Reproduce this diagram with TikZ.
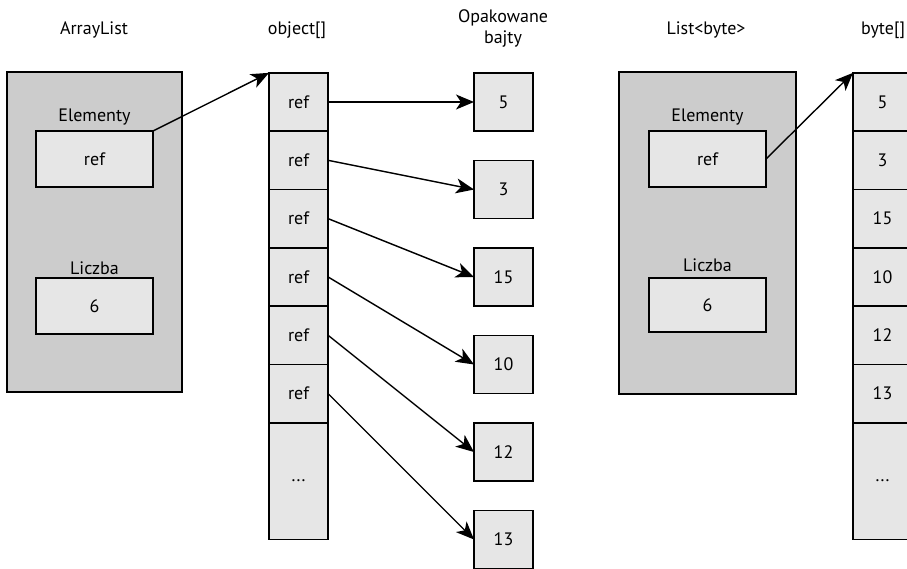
\documentclass[tikz,border=0pt]{standalone}
\usepackage{fontspec}
\setmainfont{PT Sans}
\usepackage{tikz}
\usetikzlibrary{arrows.meta,positioning}

\definecolor{outergray}{RGB}{204,204,204}
\definecolor{innergray}{RGB}{230,230,230}

\begin{document}
\begin{tikzpicture}[x=1pt,y=-1pt,font=\fontsize{18}{21}\selectfont]
			\tikzstyle{Outer}	= [rectangle, draw, line width=1.6pt, fill=outergray, minimum width=175pt, minimum height=320pt, inner sep=0pt, outer sep=0pt]
			\tikzstyle{Field}	= [rectangle, draw, line width=1.6pt, fill=innergray, minimum width=117pt, minimum height=56pt, inner sep=0pt, outer sep=0pt]
			\tikzstyle{Cell}	= [rectangle, draw, line width=1.6pt, fill=innergray, minimum width=59pt, minimum height=58.3pt, inner sep=0pt, outer sep=0pt]
			\tikzstyle{Tail}	= [Cell, minimum height=116.6pt]
			\tikzstyle{Boxed}	= [Cell, minimum height=58pt]
			\tikzstyle{Title}	= [inner sep=0pt]
			\tikzstyle{Ptr}		= [line width=1.4pt, -{Stealth[length=18pt,width=15pt,inset=5pt]}]

			\useasboundingbox (0,0) rectangle (907,568);

			% titles
			\node (tAL) at (94,30) [Title] {ArrayList};
			\node (tObj) at (297,30) [Title] {object[]};
			\node (tBox) at (503,28) [Title, align=center] {Opakowane\\bajty};
			\node (tLB) at (706,30) [Title] {List<byte>};
			\node (tByte) at (883,30) [Title] {byte[]};

			% ArrayList
			\node (al) at (94.5,232) [Outer] {};
			\node (alE) at (94.5,117) [Title] {Elementy};
			\node (alRef) at (94.5,159) [Field] {ref};
			\node (alC) at (94.5,268) [Title] {Liczba};
			\node (alN) at (94.5,306) [Field] {6};

			% object[]
			\node (o1) at (298.5,102) [Cell] {ref};
			\node (o2) at (298.5,160.3) [Cell] {ref};
			\node (o3) at (298.5,218.6) [Cell] {ref};
			\node (o4) at (298.5,276.9) [Cell] {ref};
			\node (o5) at (298.5,335.2) [Cell] {ref};
			\node (o6) at (298.5,393.5) [Cell] {ref};
			\node (o7) at (298.5,481) [Tail] {...};

			% boxed bytes
			\node (b1) at (503.5,102) [Boxed] {5};
			\node (b2) at (503.5,189.5) [Boxed] {3};
			\node (b3) at (503.5,277) [Boxed] {15};
			\node (b4) at (503.5,364.5) [Boxed] {10};
			\node (b5) at (503.5,452) [Boxed] {12};
			\node (b6) at (503.5,539.5) [Boxed] {13};

			% List<byte>
			\node (lb) at (707.5,233) [Outer, minimum width=177pt, minimum height=322pt] {};
			\node (lbE) at (707.5,117) [Title] {Elementy};
			\node (lbRef) at (707.5,159) [Field] {ref};
			\node (lbC) at (707.5,265) [Title] {Liczba};
			\node (lbN) at (707.5,305) [Field, minimum height=54pt] {6};

			% byte[]
			\node (y1) at (882.5,102) [Cell] {5};
			\node (y2) at (882.5,160.3) [Cell] {3};
			\node (y3) at (882.5,218.6) [Cell] {15};
			\node (y4) at (882.5,276.9) [Cell] {10};
			\node (y5) at (882.5,335.2) [Cell] {12};
			\node (y6) at (882.5,393.5) [Cell] {13};
			\node (y7) at (882.5,481) [Tail] {...};

			\draw (alRef.north east) to (o1.north west) [Ptr];
			\draw (o1.east) to (b1.west) [Ptr];
			\draw (o2.east) to (b2.west) [Ptr];
			\draw (o3.east) to (b3.west) [Ptr];
			\draw (o4.east) to (b4.west) [Ptr];
			\draw (o5.east) to (b5.west) [Ptr];
			\draw (o6.east) to (b6.west) [Ptr];
			\draw (lbRef.east) to (y1.north west) [Ptr];
		\end{tikzpicture}
\end{document}
